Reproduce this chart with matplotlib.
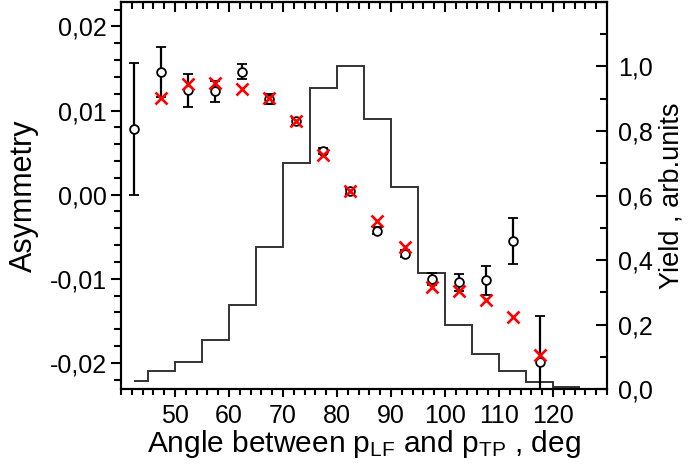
import matplotlib
matplotlib.use("Agg")
import matplotlib.pyplot as plt
from matplotlib.ticker import MultipleLocator, FuncFormatter, FixedLocator

plt.rcParams['font.family'] = ['Liberation Sans', 'DejaVu Sans']
plt.rcParams['mathtext.default'] = 'regular'

# Data
angle = [42.5, 47.5, 52.5, 57.5, 62.5, 67.5, 72.5, 77.5, 82.5, 87.5, 92.5, 97.5, 102.5, 107.5, 112.5, 117.5]
asym = [0.0078, 0.0146, 0.0124, 0.0123, 0.0146, 0.0114, 0.0087, 0.0052, 0.0004, -0.0043, -0.0070, -0.0100,
        -0.0104, -0.0102, -0.0055, -0.0199]
asym_err = [0.0078, 0.0030, 0.0020, 0.00125, 0.0009, 0.0006, 0.0004, 0.0004, 0.0003, 0.0004, 0.0004, 0.0007,
            0.0010, 0.0017, 0.0027, 0.0055]
model_angle = [47.5, 52.5, 57.5, 62.5, 67.5, 72.5, 77.5, 82.5, 87.5, 92.5, 97.5, 102.5, 107.5, 112.5, 117.5]
model_asym = [0.0115, 0.0131, 0.0133, 0.0126, 0.0115, 0.0087, 0.0047, 0.0004, -0.0031, -0.0062, -0.0110,
              -0.0115, -0.0125, -0.0145, -0.0190]
yield_edges = [42.5, 45, 50, 55, 60, 65, 70, 75, 80, 85, 90, 95, 100, 105, 110, 115, 120, 125]
yield_vals = [0.026, 0.057, 0.083, 0.152, 0.26, 0.44, 0.70, 0.932, 1.0, 0.836, 0.627, 0.359, 0.20, 0.109,
              0.056, 0.023, 0.007]
x_ticks = [50, 60, 70, 80, 90, 100, 110, 120]
yield_ticks = [0.0, 0.2, 0.4, 0.6, 0.8, 1.0]

fig = plt.figure(figsize=(6.89, 4.72), dpi=100)
ax = fig.add_axes([0.1756, 0.1758, 0.7054, 0.82])
ax2 = ax.twinx()
ax.set_zorder(ax2.get_zorder() + 1)
ax.patch.set_visible(False)

ax2.stairs(yield_vals, yield_edges, color='#333333', lw=1.4, baseline=None)

ax.errorbar(angle, asym, yerr=asym_err, fmt='o', mfc='white', mec='black', ms=6.3, mew=1.3,
            ecolor='black', elinewidth=1.6, capsize=3.8, capthick=1.6, zorder=3)
ax.plot(model_angle, model_asym, 'x', color='#ff0000', ms=8, mew=1.9, zorder=4)

ax.set_xlim(40, 130)
ax.set_ylim(-0.0231, 0.0229)
ax2.set_ylim(0, 1.2)

ax.set_xticks(x_ticks)
ax.xaxis.set_minor_locator(MultipleLocator(2))
ax.yaxis.set_major_locator(MultipleLocator(0.01))
ax.yaxis.set_minor_locator(MultipleLocator(0.002))
ax2.yaxis.set_major_locator(FixedLocator(yield_ticks))
ax2.yaxis.set_minor_locator(MultipleLocator(0.1))

ax.yaxis.set_major_formatter(FuncFormatter(lambda v, p: f"{v:.2f}".replace('.', ',').replace('-0,00', '0,00')))
ax2.yaxis.set_major_formatter(FuncFormatter(lambda v, p: f"{v:.1f}".replace('.', ',')))

for a in (ax, ax2):
    for s in a.spines.values():
        s.set_linewidth(1.5)

TS = 18
ax.tick_params(axis='x', which='both', top=False, direction='out', labelsize=TS, width=1.5, pad=5)
ax.tick_params(axis='x', which='major', length=6)
ax.tick_params(axis='x', which='minor', length=4)
ax.tick_params(axis='y', which='both', direction='out', labelsize=TS, width=1.5, pad=3)
ax.tick_params(axis='y', which='major', length=7)
ax.tick_params(axis='y', which='minor', length=5)
ax2.tick_params(axis='y', which='both', direction='in', labelsize=TS, width=1.5)
ax2.tick_params(axis='y', which='major', length=8, pad=8)
ax2.tick_params(axis='y', which='minor', length=5)

# top ticks inward via secondary axis
sec = ax.secondary_xaxis('top')
sec.set_xticks(x_ticks)
sec.xaxis.set_minor_locator(MultipleLocator(2))
sec.tick_params(axis='x', which='both', direction='in', labeltop=False, width=1.5)
sec.tick_params(axis='x', which='major', length=7)
sec.tick_params(axis='x', which='minor', length=5)
sec.spines['top'].set_linewidth(1.5)

ax.set_xlabel('Angle between p$_{LF}$ and p$_{TP}$ , deg', fontsize=21.5, labelpad=0)
ax.set_ylabel('Asymmetry', fontsize=22, labelpad=8)
ax2.set_ylabel('Yield , arb.units', fontsize=19.5, labelpad=4)

fig.savefig('out.png', dpi=100)
